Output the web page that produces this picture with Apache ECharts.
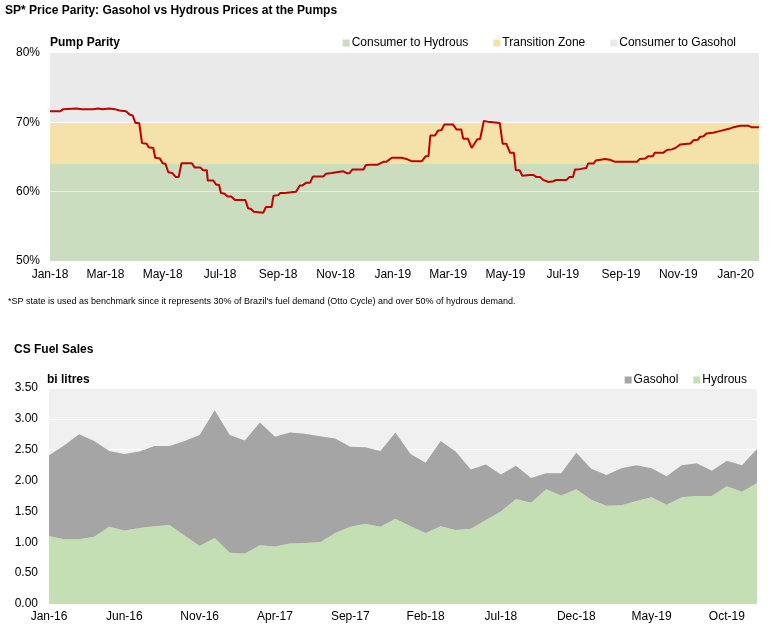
<!DOCTYPE html>
<html><head><meta charset="utf-8">
<script src="https://cdn.jsdelivr.net/npm/echarts@6/dist/echarts.min.js"></script>
<style>html,body{margin:0;padding:0;background:#fff}#c{width:772px;height:639px}</style>
</head><body><div id="c"></div>
<script>
// ---- Top chart: SP pump parity (hydrous / gasohol price ratio, %) ----
const parityDates = [
 '2018-01-01','2018-01-12','2018-01-15','2018-01-29','2018-02-04','2018-02-16','2018-02-21','2018-02-26',
 '2018-03-05','2018-03-11','2018-03-16','2018-03-23','2018-03-27','2018-03-30','2018-04-02','2018-04-06',
 '2018-04-09','2018-04-14','2018-04-16','2018-04-21','2018-04-23','2018-04-28','2018-05-01','2018-05-04',
 '2018-05-07','2018-05-11','2018-05-15','2018-05-18','2018-05-21','2018-06-01','2018-06-04','2018-06-10',
 '2018-06-13','2018-06-17','2018-06-18','2018-06-24','2018-06-27','2018-06-30','2018-07-02','2018-07-06',
 '2018-07-09','2018-07-13','2018-07-17','2018-07-28','2018-07-31','2018-08-03','2018-08-06','2018-08-16',
 '2018-08-19','2018-08-25','2018-08-27','2018-09-01','2018-09-03','2018-09-08','2018-09-10','2018-09-20',
 '2018-09-24','2018-09-27','2018-10-01','2018-10-05','2018-10-08','2018-10-19','2018-10-22','2018-10-28',
 '2018-10-30','2018-11-09','2018-11-13','2018-11-16','2018-11-19','2018-12-01','2018-12-03','2018-12-08',
 '2018-12-16','2018-12-22','2018-12-25','2018-12-31','2019-01-10','2019-01-16','2019-01-21','2019-02-01',
 '2019-02-05','2019-02-08','2019-02-10','2019-02-15','2019-02-18','2019-02-22','2019-02-25','2019-03-06',
 '2019-03-10','2019-03-15','2019-03-17','2019-03-22','2019-03-26','2019-03-28','2019-04-01','2019-04-04',
 '2019-04-08','2019-04-12','2019-04-14','2019-04-25','2019-04-28','2019-05-02','2019-05-06','2019-05-10',
 '2019-05-12','2019-05-16','2019-05-19','2019-05-27','2019-05-31','2019-06-03','2019-06-07','2019-06-10',
 '2019-06-16','2019-06-21','2019-06-24','2019-07-05','2019-07-08','2019-07-12','2019-07-14','2019-07-19',
 '2019-07-26','2019-07-28','2019-08-03','2019-08-05','2019-08-10','2019-08-15','2019-08-20','2019-08-26',
 '2019-09-18','2019-09-21','2019-09-27','2019-09-30','2019-10-05','2019-10-07','2019-10-16','2019-10-20',
 '2019-10-25','2019-10-29','2019-11-03','2019-11-14','2019-11-17','2019-11-22','2019-11-24','2019-11-28',
 '2019-12-01','2019-12-08','2019-12-14','2019-12-16','2019-12-26','2019-12-30','2020-01-06','2020-01-15',
 '2020-01-18','2020-01-26'
];
const parityValues = [
 71.6,71.6,71.9,72.0,71.9,71.9,72.0,71.9,
 72.0,71.9,71.7,71.6,71.1,71.0,69.9,69.9,
 67.0,66.9,66.4,66.3,64.9,64.8,64.1,64.0,
 62.8,62.7,62.1,62.1,64.1,64.1,63.5,63.5,
 63.1,63.1,61.6,61.6,61.0,61.0,59.8,59.7,
 59.3,59.3,58.8,58.8,57.6,57.5,57.1,56.95,
 57.8,57.8,59.4,59.5,59.8,59.8,60.0,60.0,
 60.9,60.9,61.3,61.3,62.2,62.2,62.6,62.7,
 62.95,62.95,62.66,62.66,63.2,63.2,63.8,63.9,
 63.9,64.3,64.3,64.9,64.9,64.7,64.4,64.4,
 65.1,65.1,68.1,68.1,68.8,68.9,69.7,69.7,
 68.95,68.95,67.65,67.65,66.3,66.3,67.55,67.6,
 70.2,70.1,69.9,69.9,66.9,66.9,65.6,65.6,
 63.1,63.1,62.3,62.4,62.4,62.1,62.1,61.7,
 61.4,61.5,61.7,61.7,62.1,62.1,63.2,63.25,
 63.4,64.05,64.05,64.5,64.6,64.7,64.6,64.3,
 64.3,64.7,64.8,65.1,65.1,65.6,65.6,66.0,
 66.1,66.3,66.8,66.95,67.4,67.5,67.9,68.0,
 68.4,68.5,68.7,68.95,69.1,69.3,69.5,69.5,
 69.3,69.3
];
const parityTicks = ['2018-01-01','2018-03-01','2018-05-01','2018-07-01','2018-09-01','2018-11-01',
 '2019-01-01','2019-03-01','2019-05-01','2019-07-01','2019-09-01','2019-11-01','2020-01-01'];
const bandNames = ['Consumer to Hydrous','Transition Zone','Consumer to Gasohol'];
const bandTops = [64, 70, 80];
const bandColors = ['#CADDBE','#F5E2AB','#EAEAEA'];

// ---- Bottom chart: CS fuel sales (bi litres) ----
const salesMonths = [
 'Jan-16','Feb-16','Mar-16','Apr-16','May-16','Jun-16','Jul-16','Aug-16','Sep-16','Oct-16','Nov-16','Dec-16',
 'Jan-17','Feb-17','Mar-17','Apr-17','May-17','Jun-17','Jul-17','Aug-17','Sep-17','Oct-17','Nov-17','Dec-17',
 'Jan-18','Feb-18','Mar-18','Apr-18','May-18','Jun-18','Jul-18','Aug-18','Sep-18','Oct-18','Nov-18','Dec-18',
 'Jan-19','Feb-19','Mar-19','Apr-19','May-19','Jun-19','Jul-19','Aug-19','Sep-19','Oct-19','Nov-19','Dec-19'
];
const hydrousSales = [1.10,1.05,1.05,1.09,1.25,1.19,1.23,1.26,1.28,1.11,0.94,1.07,
 0.83,0.82,0.95,0.93,0.98,0.99,1.00,1.15,1.25,1.30,1.25,1.38,
 1.26,1.15,1.26,1.20,1.22,1.36,1.50,1.70,1.64,1.86,1.76,1.86,
 1.69,1.59,1.60,1.67,1.73,1.61,1.73,1.75,1.75,1.91,1.82,1.96];
const gasoholSales = [1.31,1.52,1.70,1.55,1.23,1.24,1.24,1.30,1.28,1.53,1.80,2.07,
 1.91,1.83,1.99,1.78,1.80,1.77,1.72,1.53,1.30,1.24,1.23,1.40,
 1.17,1.14,1.38,1.27,0.96,0.90,0.60,0.54,0.40,0.26,0.36,0.59,
 0.50,0.50,0.60,0.58,0.47,0.46,0.52,0.53,0.41,0.41,0.43,0.55];
const salesYTicks = [0, 3.5, 0.5]; // min, max, step

// ---------------------------------------------------------------
const FONT = '"Liberation Sans", Arial, sans-serif';
const MON = ['Jan','Feb','Mar','Apr','May','Jun','Jul','Aug','Sep','Oct','Nov','Dec'];
function ts(s){ const p = s.split('-').map(Number); return Date.UTC(p[0], p[1]-1, p[2]); }
function fmtDate(v){ const d = new Date(v); return MON[d.getUTCMonth()] + '-' + String(d.getUTCFullYear()).slice(2); }

const xMin = ts(parityDates[0]);
const xMax = ts(parityDates[parityDates.length-1]);

const bandSeries = bandNames.map((n,i)=>({
  name: n, type:'line', xAxisIndex:0, yAxisIndex:0,
  data: [[xMin, bandTops[i]],[xMax, bandTops[i]]],
  symbol:'none', silent:true, color: bandColors[i],
  lineStyle:{width:0}, areaStyle:{color: bandColors[i], opacity:1, origin:'start'},
  z: 1
})).reverse(); // draw gasohol first, hydrous last

bandSeries[bandSeries.length-1].markLine = {
  silent:true, symbol:'none', label:{show:false},
  data:[{yAxis:60, lineStyle:{color:'rgba(255,255,255,0.55)', width:1, type:'solid'}},
        {yAxis:70, lineStyle:{color:'#ffffff', width:1, type:'solid'}}]
};

const tStyle = (size, weight)=>({fontFamily:FONT, fontSize:size, fontWeight:weight, color:'#000'});

const chart = echarts.init(document.getElementById('c'), null, {renderer:'canvas'});
chart.setOption({
  animation:false,
  backgroundColor:'#ffffff',
  textStyle:{fontFamily:FONT, color:'#000'},
  title:[
    {text:'SP* Price Parity: Gasohol vs Hydrous Prices at the Pumps', left:5, top:5, padding:0,
     textStyle:tStyle(12,'bold')},
    {text:'Pump Parity', left:50, top:37, padding:0, textStyle:tStyle(12,'bold')},
    {text:"*SP state is used as benchmark since it represents 30% of Brazil's fuel demand (Otto Cycle) and over 50% of hydrous demand.",
     left:8, top:297, padding:0, textStyle:tStyle(9,'normal')},
    {text:'CS Fuel Sales', left:14, top:344, padding:0, textStyle:tStyle(12,'bold')},
    {text:'bi litres', left:47, top:374, padding:0, textStyle:tStyle(12,'bold')}
  ],
  legend:[
    {data: bandNames, right:31, top:32, icon:'rect', itemWidth:7, itemHeight:7, itemGap:25,
     textStyle:{fontFamily:FONT, fontSize:12, color:'#000', padding:[0,0,0,-3]}, selectedMode:false},
    {data:['Gasohol','Hydrous'], right:20, top:369, icon:'rect', itemWidth:7, itemHeight:7, itemGap:15,
     textStyle:{fontFamily:FONT, fontSize:12, color:'#000', padding:[0,0,0,-3]}, selectedMode:false}
  ],
  grid:[
    {left:50, right:13, top:53, height:208, containLabel:false},
    {left:49, right:15, top:388, height:216, containLabel:false, show:true, backgroundColor:'#F0F0F0', borderWidth:0}
  ],
  xAxis:[
    {type:'value', gridIndex:0, min:xMin, max:xMax, scale:true,
     axisLine:{show:false}, axisTick:{show:false}, splitLine:{show:false},
     axisLabel:{customValues: parityTicks.map(ts), formatter: v=>fmtDate(v), fontFamily:FONT, fontSize:12, color:'#000', margin:8, hideOverlap:false, showMinLabel:true, showMaxLabel:true}},
    {type:'category', gridIndex:1, data: salesMonths, boundaryGap:false,
     axisLine:{show:false}, axisTick:{show:false}, splitLine:{show:false},
     axisLabel:{interval:4, fontFamily:FONT, fontSize:12, color:'#000', margin:7}}
  ],
  yAxis:[
    {type:'value', gridIndex:0, min:50, max:80, interval:10,
     axisLine:{show:false}, axisTick:{show:false}, splitLine:{show:false},
     axisLabel:{formatter:'{value}%', fontFamily:FONT, fontSize:12, color:'#000', margin:10}},
    {type:'value', gridIndex:1, min:salesYTicks[0], max:salesYTicks[1], interval:salesYTicks[2],
     axisLine:{show:false}, axisTick:{show:false},
     splitLine:{show:true, lineStyle:{color:'#ffffff', width:1}},
     axisLabel:{formatter: v=>v.toFixed(2), fontFamily:FONT, fontSize:12, color:'#000', margin:11}}
  ],
  series:[
    ...bandSeries,
    {name:'Parity', type:'line', xAxisIndex:0, yAxisIndex:0,
     data: parityDates.map((d,i)=>[ts(d), parityValues[i]]),
     symbol:'none', color:'#C00000', lineStyle:{color:'#C00000', width:2}, z:10, silent:true},
    {name:'Hydrous', type:'line', xAxisIndex:1, yAxisIndex:1, stack:'sales', data: hydrousSales,
     symbol:'none', color:'#C5DFB4', lineStyle:{width:0}, areaStyle:{color:'#C5DFB4', opacity:1}, silent:true},
    {name:'Gasohol', type:'line', xAxisIndex:1, yAxisIndex:1, stack:'sales', data: gasoholSales,
     symbol:'none', color:'#A5A5A5', lineStyle:{width:0}, areaStyle:{color:'#A5A5A5', opacity:1}, silent:true}
  ]
});
</script>
</body></html>
